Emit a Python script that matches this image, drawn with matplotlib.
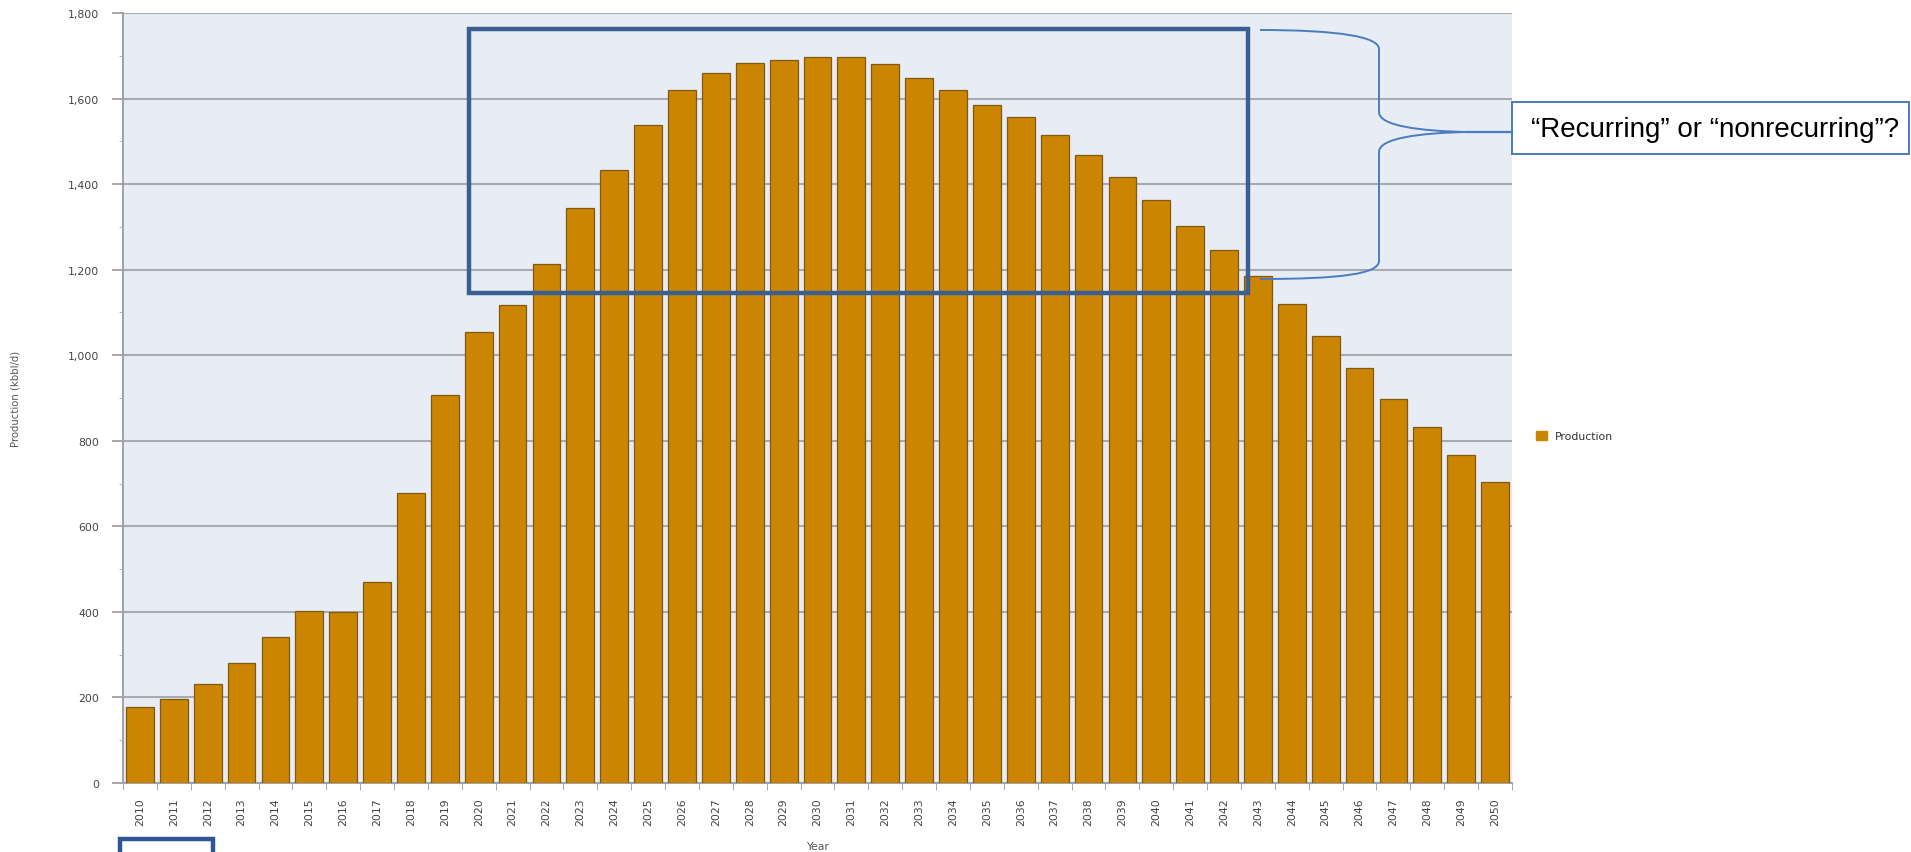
import matplotlib.pyplot as plt
import matplotlib.patches as mpatches
from matplotlib.path import Path
import numpy as np

years = list(range(2010, 2051))
production = [178, 196, 231, 280, 341, 403, 400, 470, 678, 908,
              1054, 1117, 1213, 1344, 1433, 1538, 1620, 1660, 1683, 1689,
              1697, 1697, 1680, 1649, 1620, 1586, 1558, 1515, 1467, 1416,
              1364, 1302, 1245, 1185, 1119, 1045, 971, 897, 832, 766, 703]
yticks = [0, 200, 400, 600, 800, 1000, 1200, 1400, 1600, 1800]
callout = "\u201cRecurring\u201d or \u201cnonrecurring\u201d?"

W, H = 1911, 853
fig = plt.figure(figsize=(W / 100, H / 100), dpi=100)
ax = fig.add_axes([123 / W, 1 - 784 / H, (1512 - 123) / W, (784 - 14) / H])
ax.set_facecolor('#e8ecf4')

x = np.arange(len(years))
ax.bar(x, production, width=0.82, color='#cc8500', edgecolor='#7f5a14',
       linewidth=0.9, label='Production', zorder=3)

ax.set_xlim(-0.5, len(years) - 0.5)
ax.set_ylim(0, 1800)
ax.set_yticks(yticks)
ax.set_yticklabels([f'{v:,}' for v in yticks])
ax.set_yticks(np.arange(100, 1800, 200), minor=True)
ax.yaxis.grid(True, color='#a8aab2', linewidth=1.5, zorder=1)
ax.set_axisbelow(True)

# year labels under the bars, ticks on the bar boundaries
ax.set_xticks(x)
ax.set_xticklabels([str(y) for y in years], rotation=90)
ax.set_xticks(np.arange(-0.5, len(years)), minor=True)
ax.tick_params(axis='x', which='major', length=0, pad=10, labelsize=7.8, labelcolor='#444444')
ax.tick_params(axis='x', which='minor', length=5, color='#999999')
ax.tick_params(axis='y', which='major', length=8, width=1.2, color='#999999',
               pad=9, labelsize=7.8, labelcolor='#444444')
ax.tick_params(axis='y', which='minor', length=3, color='#aaaaaa')

for s in ['top', 'right']:
    ax.spines[s].set_visible(False)
for s in ['left', 'bottom']:
    ax.spines[s].set_color('#a0a0a8')
    ax.spines[s].set_linewidth(1.4)

ax.set_xlabel('Year', fontsize=7.8, color='#555555', labelpad=12)
ax.set_ylabel('Production (kbbl/d)', fontsize=7.3, color='#555555', labelpad=34)

fig.legend(handles=[mpatches.Patch(color='#cc8500', label='Production')],
           loc='center left', bbox_to_anchor=(1526 / W, 1 - 437 / H),
           frameon=False, fontsize=7.8, handlelength=1.0, handleheight=1.0,
           labelcolor='#333333')

# highlighted peak years
ax.add_patch(mpatches.Rectangle((9.72, 1145), 23.0, 617, fill=False,
                                edgecolor='#3a5f92', linewidth=3.2,
                                clip_on=False, zorder=5))


def px(xp, yp):
    return (xp / W, 1 - yp / H)


# curly brace pointing to the question box
verts = [px(1260, 31), px(1340, 31), px(1379, 38), px(1379, 50),
         px(1379, 113),
         px(1379, 127), px(1420, 132), px(1467, 133),
         px(1420, 134), px(1379, 139), px(1379, 153),
         px(1379, 262),
         px(1379, 275), px(1340, 280), px(1260, 280)]
codes = [Path.MOVETO, Path.CURVE4, Path.CURVE4, Path.CURVE4,
         Path.LINETO,
         Path.CURVE4, Path.CURVE4, Path.CURVE4,
         Path.CURVE4, Path.CURVE4, Path.CURVE4,
         Path.LINETO,
         Path.CURVE4, Path.CURVE4, Path.CURVE4]
fig.patches.append(mpatches.PathPatch(Path(verts, codes), fill=False,
                                      edgecolor='#4a7cc0', linewidth=1.4,
                                      transform=fig.transFigure))
fig.lines.append(plt.Line2D([1467 / W, 1512 / W], [1 - 133 / H] * 2,
                            color='#4a7cc0', linewidth=1.6,
                            transform=fig.transFigure))

fig.patches.append(mpatches.Rectangle(px(1512, 155), (1909 - 1512) / W, 52 / H,
                                      fill=True, facecolor='white',
                                      edgecolor='#4a7cc0', linewidth=1.4,
                                      transform=fig.transFigure))
fig.text(1531 / W, 1 - 130 / H, callout, fontsize=20, family='Liberation Sans',
         ha='left', va='center', color='black')

# small box at the bottom edge
fig.patches.append(mpatches.Rectangle(px(120, 870), 93 / W, 30 / H, fill=False,
                                      edgecolor='#2f5597', linewidth=3.2,
                                      transform=fig.transFigure))

fig.savefig('out.png', dpi=100)
